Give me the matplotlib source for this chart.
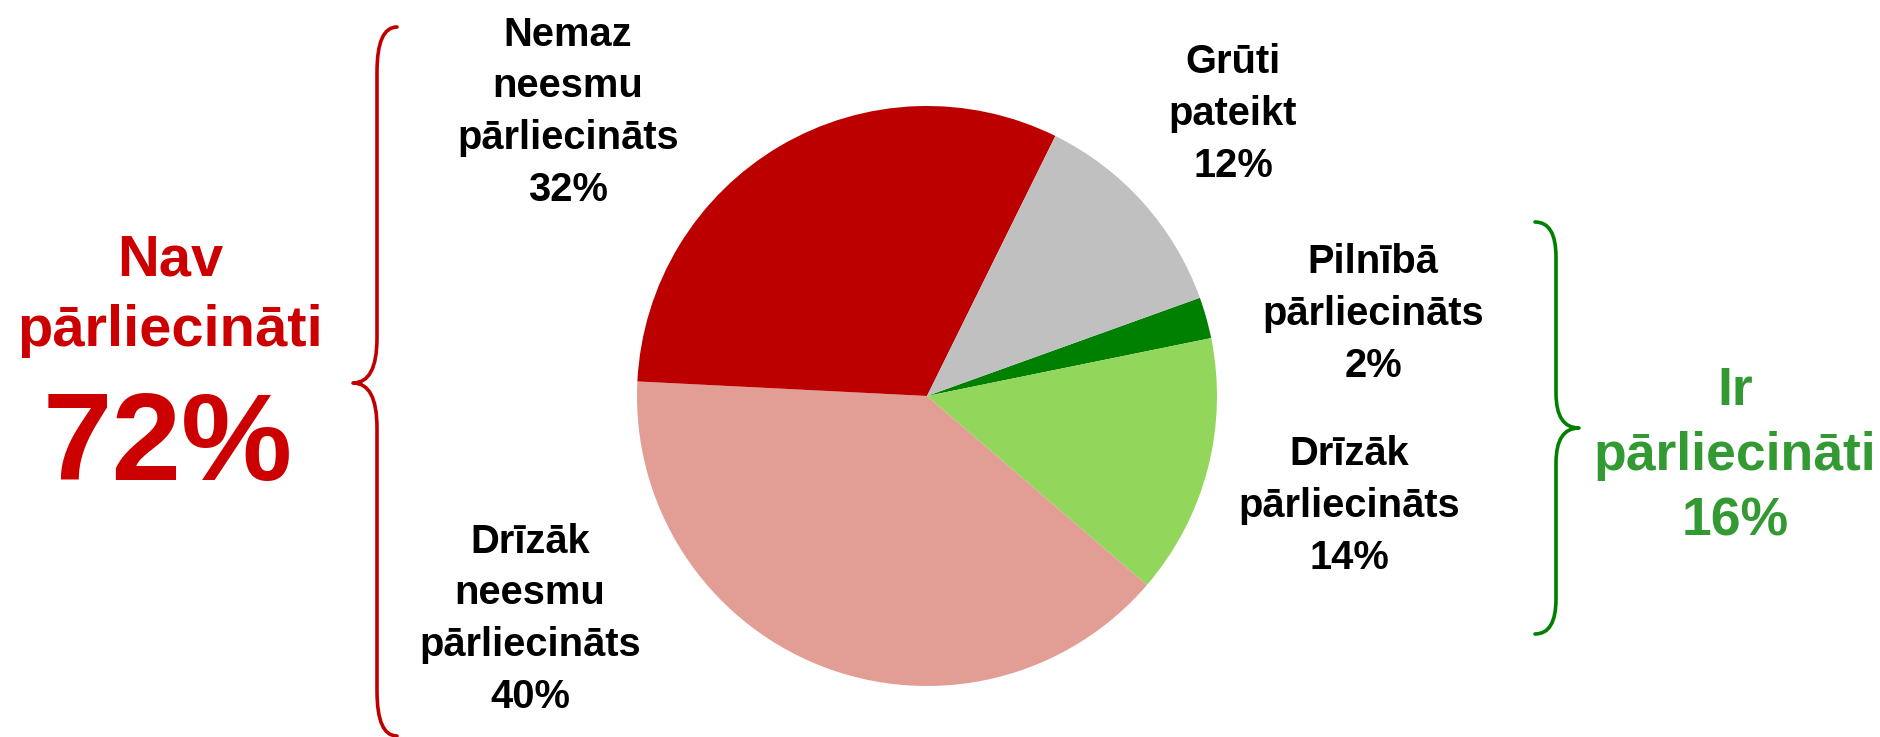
import matplotlib.pyplot as plt
from matplotlib.path import Path
from matplotlib.patches import PathPatch

plt.rcParams['font.family'] = ['Liberation Sans', 'DejaVu Sans']
plt.rcParams['font.weight'] = 'bold'

# data (clockwise from the small dark green slice)
categories = ["Pilnībā\npārliecināts", "Drīzāk\npārliecināts", "Drīzāk\nneesmu\npārliecināts",
              "Nemaz\nneesmu\npārliecināts", "Grūti\npateikt"]
values = [2.3, 14.5, 39.5, 31.5, 12.2]
shown_pct = [2, 14, 40, 32, 12]
colors = ["#008000", "#92D65C", "#E29E94", "#BC0000", "#C0C0C0"]

group_no = "Nav\npārliecināti"
group_no_pct = 72
group_yes = "Ir\npārliecināti"
group_yes_pct = 16

W, H = 1881, 737
fig = plt.figure(figsize=(W / 100, H / 100), dpi=100)
ax = fig.add_axes([0, 0, 1, 1])

ax.pie(values, colors=colors, startangle=19.8, counterclock=False,
       center=(927, H - 396), radius=290, wedgeprops=dict(linewidth=0))
ax.set_xlim(0, W)
ax.set_ylim(0, H)
ax.set_aspect('equal')
ax.axis('off')

# label positions (x centre, last-line baseline) in pixels
label_pos = [(1373, 377), (1349, 569), (530, 708), (568, 201), (1233, 177)]
for cat, pct, (x, y) in zip(categories, shown_pct, label_pos):
    ax.text(x, H - y, f"{cat}\n{pct}%", ha='center', va='baseline',
            fontsize=28.7, fontweight='bold', linespacing=1.46, color='black')

# left group
ax.text(170, H - 346, group_no, ha='center', va='baseline', fontsize=41.7,
        fontweight='bold', color='#CC0000', linespacing=1.4)
ax.text(168, H - 480, f"{group_no_pct}%", ha='center', va='baseline', fontsize=90,
        fontweight='bold', color='#CC0000')

# right group
ax.text(1735, H - 535, f"{group_yes}\n{group_yes_pct}%", ha='center', va='baseline',
        fontsize=38.5, fontweight='bold', color='#339933', linespacing=1.39)


def brace(x_end, x_mid, x_tip, y_top, y_tip, y_bot, r, color):
    verts = [(x_end, y_top), (x_mid, y_top), (x_mid, y_top - r),
             (x_mid, y_tip + r),
             (x_mid, y_tip), (x_tip, y_tip),
             (x_mid, y_tip), (x_mid, y_tip - r),
             (x_mid, y_bot + r),
             (x_mid, y_bot), (x_end, y_bot)]
    codes = [Path.MOVETO, Path.CURVE3, Path.CURVE3,
             Path.LINETO,
             Path.CURVE3, Path.CURVE3,
             Path.CURVE3, Path.CURVE3,
             Path.LINETO,
             Path.CURVE3, Path.CURVE3]
    ax.add_patch(PathPatch(Path(verts, codes), fill=False, edgecolor=color,
                           linewidth=2.6, capstyle='round', joinstyle='round'))


brace(397, 377, 353, H - 27, H - 383, H - 736, 45, '#C00000')
brace(1535, 1556, 1579, H - 222, H - 428, H - 634, 35, '#008000')

fig.savefig('out.png', dpi=100, facecolor='white')
